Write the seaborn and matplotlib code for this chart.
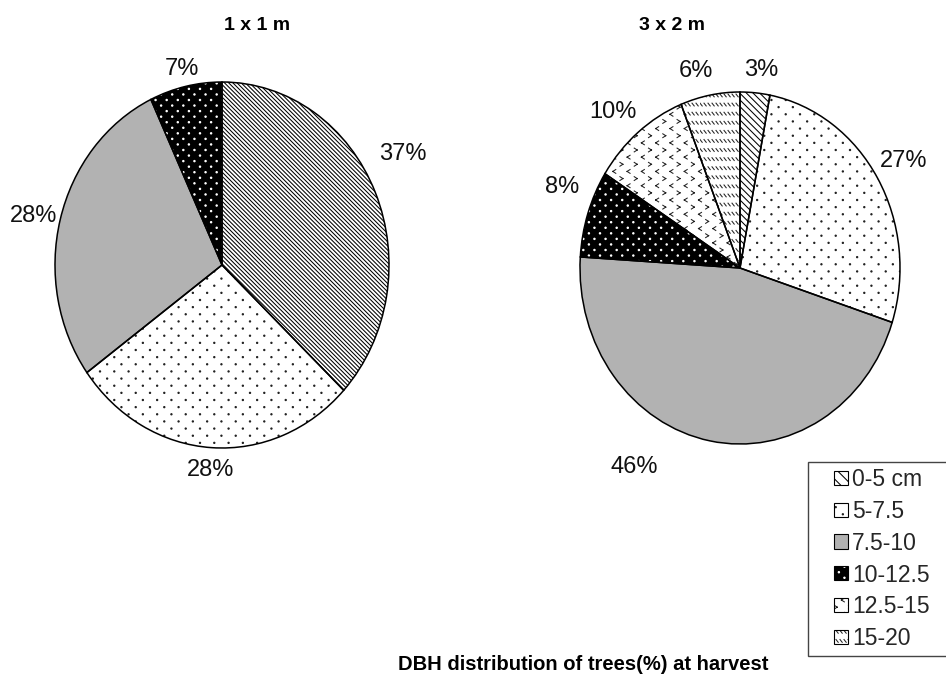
import warnings

import numpy as np
import pandas as pd
import matplotlib
matplotlib.use("Agg")
import matplotlib.pyplot as plt
import matplotlib.patches as mpatches
from matplotlib import hatch as mhatch
from matplotlib.path import Path
from matplotlib.legend_handler import HandlerBase
import seaborn as sns

warnings.simplefilter("ignore")

# ---------------------------------------------------------------------------
# Data: share of trees (%) per DBH class at harvest, for two planting spacings
# ---------------------------------------------------------------------------
dbh_classes = ["0-5 cm", "5-7.5", "7.5-10", "10-12.5", "12.5-15", "15-20"]
share_1x1 = [37, 28, 28, 7, 0, 0]
share_3x2 = [3, 27, 46, 8, 10, 6]
spacings = ["1 x 1 m", "3 x 2 m"]
figure_title = "DBH distribution of trees(%) at harvest"

df = pd.DataFrame({
    "spacing": np.repeat(spacings, len(dbh_classes)),
    "dbh": dbh_classes * 2,
    "share": share_1x1 + share_3x2,
})


# ---------------------------------------------------------------------------
# Extra fill textures (one hatch tile = one inch)
# ---------------------------------------------------------------------------
class _TileHatch(mhatch.HatchPatternBase):
    key = "?"

    def __init__(self, hatch, density):
        if self.key in hatch:
            self._v, self._c = self.tile()
        else:
            self._v = np.empty((0, 2))
            self._c = np.empty(0, Path.code_type)
        self.num_vertices = len(self._v)

    def set_vertices_and_codes(self, vertices, codes):
        vertices[:] = self._v
        codes[:] = self._c

    @staticmethod
    def _stagger(rows, cols):
        pts = []
        for j in range(rows + 1):
            y = j / rows
            if j % 2 == 0:
                xs = np.arange(cols + 1) / cols
            else:
                xs = (np.arange(cols) + 0.5) / cols
            pts += [(x, y, j) for x in xs]
        return pts

    @staticmethod
    def _dots(pts, r):
        circ = Path.unit_circle()
        v = [circ.vertices * r + [x, y] for x, y, _ in pts]
        c = [circ.codes for _ in pts]
        return np.concatenate(v), np.concatenate(c)

    @staticmethod
    def _segments(segs):
        v = np.array([p for s in segs for p in s], float)
        c = np.tile([Path.MOVETO, Path.LINETO], len(segs)).astype(Path.code_type)
        return v, c


class SparseDots(_TileHatch):
    key = "d"

    def tile(self):
        return self._dots(self._stagger(14, 7), 0.0065)


class FineDots(_TileHatch):
    key = "w"

    def tile(self):
        return self._dots(self._stagger(18, 9), 0.007)


class Chevrons(_TileHatch):
    key = "k"

    def tile(self):
        a, b = 0.015, 0.019
        segs = []
        for x, y, j in self._stagger(14, 7):
            s = 1 if j % 2 == 0 else -1
            tip = (x - s * a, y)
            segs.append([(x + s * a, y + b), tip])
            segs.append([tip, (x + s * a, y - b)])
        return self._segments(segs)


class Dashes(_TileHatch):
    key = "z"

    def tile(self):
        w, h = 0.022, 0.028
        segs = []
        for j in range(11):
            y = (j + 0.5) / 11
            for i in range(25):
                x = i / 25
                segs.append([(x, y + h / 2), (x + w, y - h / 2)])
        return self._segments(segs)


mhatch._hatch_types.extend([SparseDots, FineDots, Chevrons, Dashes])

# ---------------------------------------------------------------------------
# Styling
# ---------------------------------------------------------------------------
sns.set_theme(style="white")
plt.rcParams["font.family"] = ["Liberation Sans", "DejaVu Sans"]
plt.rcParams["hatch.linewidth"] = 0.75

fill_color = {"0-5 cm": "white", "5-7.5": "white", "7.5-10": "#b2b2b2",
              "10-12.5": "black", "12.5-15": "white", "15-20": "white"}
texture_color = {"0-5 cm": "black", "5-7.5": "#222222", "7.5-10": "#b2b2b2",
                 "10-12.5": "white", "12.5-15": "#222222", "15-20": "#222222"}
texture = {
    "1 x 1 m": {"0-5 cm": "\\" * 8, "5-7.5": "d", "7.5-10": "",
                "10-12.5": "w", "12.5-15": "k", "15-20": "z"},
    "3 x 2 m": {"0-5 cm": "\\" * 5, "5-7.5": "d", "7.5-10": "",
                "10-12.5": "w", "12.5-15": "k", "15-20": "z"},
}
# label placement: (angle shift in degrees, distance from centre in radii)
label_dist = 1.16
label_shift = {("1 x 1 m", "0-5 cm"): (6, 1.24),
               ("1 x 1 m", "5-7.5"): (0, 1.12),
               ("1 x 1 m", "7.5-10"): (1, 1.16),
               ("1 x 1 m", "10-12.5"): (0, 1.1),
               ("3 x 2 m", "0-5 cm"): (-1.2, 1.13),
               ("3 x 2 m", "5-7.5"): (0, 1.19),
               ("3 x 2 m", "7.5-10"): (-19.5, 1.31),
               ("3 x 2 m", "10-12.5"): (-4.5, 1.2),
               ("3 x 2 m", "12.5-15"): (2.4, 1.19),
               ("3 x 2 m", "15-20"): (3, 1.15)}

W, H = 946, 685
fig = plt.figure(figsize=(W / 100, H / 100), dpi=100)

# pie centres and radii (pixels); pies are slightly taller than wide
pie_geom = {"1 x 1 m": (222, 265, 167, 183),
            "3 x 2 m": (740, 268, 160, 176)}
lim = 1.3


def axes_for(cx, cy, rx, ry):
    w, h = 2 * lim * rx, 2 * lim * ry
    return fig.add_axes([(cx - w / 2) / W, (H - cy - h / 2) / H, w / W, h / H])


outline_lw = 1.1
for spacing in spacings:
    sub = df[(df.spacing == spacing) & (df.share > 0)]
    ax = axes_for(*pie_geom[spacing])
    vals = sub.share.to_numpy()
    cls = sub.dbh.tolist()
    # textured fills first, then the black outlines on top
    wedges, _ = ax.pie(vals, startangle=90, counterclock=False,
                       colors=[fill_color[c] for c in cls],
                       wedgeprops=dict(linewidth=0))
    for w, c in zip(wedges, cls):
        w.set_edgecolor(texture_color[c])
        w.set_hatch(texture[spacing][c])
    ax.pie(vals, startangle=90, counterclock=False,
           wedgeprops=dict(facecolor="none", edgecolor="black",
                           linewidth=outline_lw))
    for w, c, v in zip(wedges, cls, vals):
        shift, dist = label_shift.get((spacing, c), (0, label_dist))
        th = np.deg2rad((w.theta1 + w.theta2) / 2 + shift)
        ax.text(dist * np.cos(th), dist * np.sin(th), f"{v}%",
                ha="center", va="center", fontsize=17, color="#111111")
    ax.set_aspect("auto")
    ax.set_xlim(-lim, lim)
    ax.set_ylim(-lim, lim)
    ax.axis("off")

# panel titles and overall title
title_pos = {"1 x 1 m": (257, 26), "3 x 2 m": (672, 26)}
for spacing in spacings:
    x, y = title_pos[spacing]
    fig.text(x / W, 1 - y / H, spacing, ha="center", va="center",
             fontsize=14, fontweight="bold", color="black")
fig.text(583 / W, 1 - 665 / H, figure_title, ha="center", va="center",
         fontsize=14.5, fontweight="bold", color="black")


# ---------------------------------------------------------------------------
# Legend: small square swatches at the right end of each handle box
# ---------------------------------------------------------------------------
class SwatchHandler(HandlerBase):
    def create_artists(self, legend, orig_handle, xdescent, ydescent,
                       width, height, fontsize, trans):
        side = height
        x0 = -xdescent + width - side
        y0 = -ydescent
        arts = []
        for p in orig_handle:
            r = mpatches.Rectangle((x0, y0), side, side, transform=trans)
            r.update_from(p)
            arts.append(r)
        return arts


legend_texture = {"0-5 cm": "\\" * 3, "5-7.5": "d", "7.5-10": "",
                  "10-12.5": "w", "12.5-15": "k", "15-20": "z"}
handles = []
for c in dbh_classes:
    fill = mpatches.Patch(facecolor=fill_color[c], edgecolor=texture_color[c],
                          hatch=legend_texture[c], linewidth=0)
    edge = mpatches.Patch(facecolor="none", edgecolor="black", linewidth=0.8)
    handles.append((fill, edge))

leg_fs = 16.5
fs_px = leg_fs * 100 / 72
pad = 0.25
leg_left, leg_top, leg_bottom = 808, 462, 650
leg = fig.legend(handles, dbh_classes,
                 handler_map={tuple: SwatchHandler()},
                 loc="upper left", mode="expand",
                 bbox_to_anchor=(leg_left / W, (H - leg_bottom) / H,
                                 160 / W, (leg_bottom - leg_top) / H),
                 fontsize=leg_fs, frameon=True, fancybox=False, shadow=False,
                 borderpad=pad, borderaxespad=0,
                 handlelength=(848 - leg_left - pad * fs_px) / fs_px,
                 handleheight=13 / fs_px, handletextpad=0.18,
                 labelspacing=0.39)
frame = leg.get_frame()
frame.set_edgecolor("#444444")
frame.set_linewidth(1.0)
frame.set_facecolor("white")
frame.set_alpha(1)

fig.savefig("out.png", dpi=100, facecolor="white")
